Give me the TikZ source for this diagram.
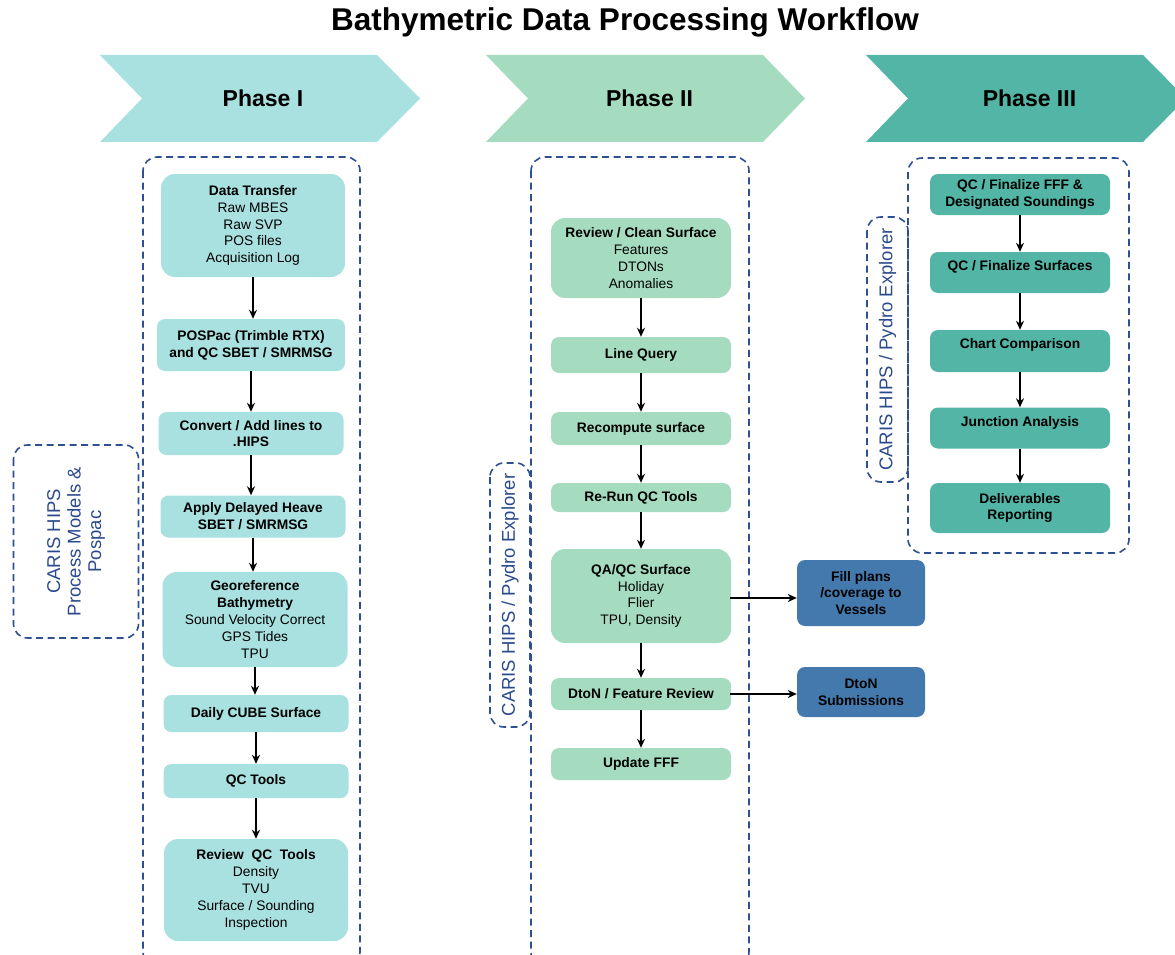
\documentclass[tikz,border=0pt]{standalone}
\usepackage{fontspec}
\setmainfont{Liberation Sans}
\usetikzlibrary{arrows.meta}
\definecolor{phaseone}{HTML}{A9E1E1}
\definecolor{phasetwo}{HTML}{A5DCBF}
\definecolor{phasethree}{HTML}{52B5A5}
\definecolor{outbox}{HTML}{4479AD}
\definecolor{dashblue}{HTML}{2E5090}
\definecolor{sidetext}{HTML}{2B4A8B}
\tikzset{
  stepbox/.style={rounded corners=8pt, inner sep=2pt, align=center,
    font=\fontsize{13.8}{16.8}\selectfont, text=black},
  p1box/.style={stepbox, fill=phaseone},
  p2box/.style={stepbox, fill=phasetwo},
  p3box/.style={stepbox, fill=phasethree},
  outnode/.style={stepbox, fill=outbox},
  flow/.style={-{Stealth[length=9pt,width=8pt]}, line width=2.4pt, black},
  group/.style={draw=dashblue, line width=1.6pt, dash pattern=on 7pt off 4.5pt,
    rounded corners=14pt},
  sidelbl/.style={group, rotate=90, align=center, text=sidetext,
    font=\fontsize{18.5}{20.5}\selectfont, inner sep=0pt},
  phasename/.style={font=\bfseries\fontsize{23}{26}\selectfont, text=black},
}
\begin{document}
\begin{tikzpicture}[x=1pt, y=-1pt]
\useasboundingbox (0,0) rectangle (1175,955);

% title
\node[font=\bfseries\fontsize{31.5}{34}\selectfont] (title) at (625,22) {Bathymetric Data Processing Workflow};

% phase banners
\fill[phaseone] (100,55) -- (377,55) -- (420,98.5) -- (377,142) -- (100,142) -- (142,98.5) -- cycle;
\fill[phasetwo] (486,55) -- (763,55) -- (805,98.5) -- (763,142) -- (486,142) -- (528,98.5) -- cycle;
\fill[phasethree] (866,55) -- (1143,55) -- (1186,98.5) -- (1143,142) -- (866,142) -- (908,98.5) -- cycle;
\node[phasename] (ph1) at (263,98.5) {Phase I};
\node[phasename] (ph2) at (649.5,98.5) {Phase II};
\node[phasename] (ph3) at (1029.5,98.5) {Phase III};

% group frames
\draw[group] (143,157) rectangle (360,966);
\draw[group] (531,157) rectangle (749,966);
\draw[group] (908,158) rectangle (1129,553);

% software labels
\node[sidelbl, minimum width=193pt, minimum height=125pt] (sw1) at (76,541.5)
  {CARIS HIPS\\Process Models \&\\Pospac};
\node[sidelbl, minimum width=264pt, minimum height=40pt] (sw2) at (510,595)
  {CARIS HIPS / Pydro Explorer};
\node[sidelbl, minimum width=265pt, minimum height=41pt] (sw3) at (887.5,349.5)
  {CARIS HIPS / Pydro Explorer};

% Phase I steps
\node[p1box, rounded corners=14pt, minimum width=184pt, minimum height=103pt] (a1) at (253,225.5)
  {\textbf{Data Transfer}\\Raw MBES\\Raw SVP\\POS files\\Acquisition Log};
\node[p1box, minimum width=188pt, minimum height=52pt] (a2) at (251,345)
  {\textbf{POSPac (Trimble RTX)}\\\textbf{and QC SBET / SMRMSG}};
\node[p1box, minimum width=185pt, minimum height=43pt] (a3) at (251,433.5)
  {\textbf{Convert / Add lines to}\\\textbf{.HIPS}};
\node[p1box, minimum width=185pt, minimum height=42pt] (a4) at (253,516.5)
  {\textbf{Apply Delayed Heave}\\\textbf{SBET / SMRMSG}};
\node[p1box, rounded corners=14pt, minimum width=185pt, minimum height=95pt] (a5) at (255,619.5)
  {\textbf{Georeference}\\\textbf{Bathymetry}\\Sound Velocity Correct\\GPS Tides\\TPU};
\node[p1box, minimum width=185pt, minimum height=37pt] (a6) at (256,713.5)
  {\textbf{Daily CUBE Surface}};
\node[p1box, minimum width=185pt, minimum height=34pt] (a7) at (256,781)
  {\textbf{QC Tools}};
\node[p1box, rounded corners=14pt, minimum width=184pt, minimum height=102pt] (a8) at (256,890)
  {\textbf{Review\ \ QC\ \ Tools}\\Density\\TVU\\Surface / Sounding\\Inspection};

% Phase II steps
\node[p2box, rounded corners=14pt, minimum width=180pt, minimum height=80pt] (b1) at (641,258)
  {\textbf{Review / Clean Surface}\\Features\\DTONs\\Anomalies};
\node[p2box, minimum width=180pt, minimum height=36pt] (b2) at (641,355)
  {\textbf{Line Query}};
\node[p2box, minimum width=180pt, minimum height=33pt] (b3) at (641,428.5)
  {\textbf{Recompute surface}};
\node[p2box, minimum width=180pt, minimum height=29pt] (b4) at (641,497.5)
  {\textbf{Re-Run QC Tools}};
\node[p2box, rounded corners=14pt, minimum width=180pt, minimum height=94pt] (b5) at (641,596)
  {\textbf{QA/QC Surface}\\Holiday\\Flier\\TPU, Density};
\node[p2box, minimum width=180pt, minimum height=32pt] (b6) at (641,694)
  {\textbf{DtoN / Feature Review}};
\node[p2box, minimum width=180pt, minimum height=32pt] (b7) at (641,764)
  {\textbf{Update FFF}};

% Phase II outputs
\node[outnode, minimum width=128pt, minimum height=66pt] (o1) at (861,593)
  {\textbf{Fill plans}\\\textbf{/coverage to}\\\textbf{Vessels}};
\node[outnode, minimum width=128pt, minimum height=50pt] (o2) at (861,692)
  {\textbf{DtoN}\\\textbf{Submissions}};

% Phase III steps
\node[p3box, minimum width=180pt, minimum height=41pt] (c1) at (1020,194.5)
  {\textbf{QC / Finalize FFF \&}\\\textbf{Designated Soundings}};
\node[p3box, minimum width=180pt, minimum height=41pt, text depth=15pt] (c2) at (1020,272.5)
  {\textbf{QC / Finalize Surfaces}};
\node[p3box, minimum width=180pt, minimum height=42pt, text depth=15pt] (c3) at (1020,351)
  {\textbf{Chart Comparison}};
\node[p3box, minimum width=180pt, minimum height=41pt, text depth=13pt] (c4) at (1020,428)
  {\textbf{Junction Analysis}};
\node[p3box, minimum width=180pt, minimum height=50pt] (c5) at (1020,508)
  {\textbf{Deliverables}\\\textbf{Reporting}};

% connectors
\foreach \u/\v in {a1/a2, a2/a3, a3/a4, a4/a5, a5/a6, a6/a7, a7/a8,
                   b1/b2, b2/b3, b3/b4, b4/b5, b5/b6, b6/b7,
                   c1/c2, c2/c3, c3/c4, c4/c5}
  \draw[flow] (\u.south) -- (\u.south |- \v.north);
\coordinate (e1) at (730,598);
\coordinate (e2) at (730,694);
\draw[flow] (e1) -- (e1 -| o1.west);
\draw[flow] (e2) -- (e2 -| o2.west);
\end{tikzpicture}
\end{document}
